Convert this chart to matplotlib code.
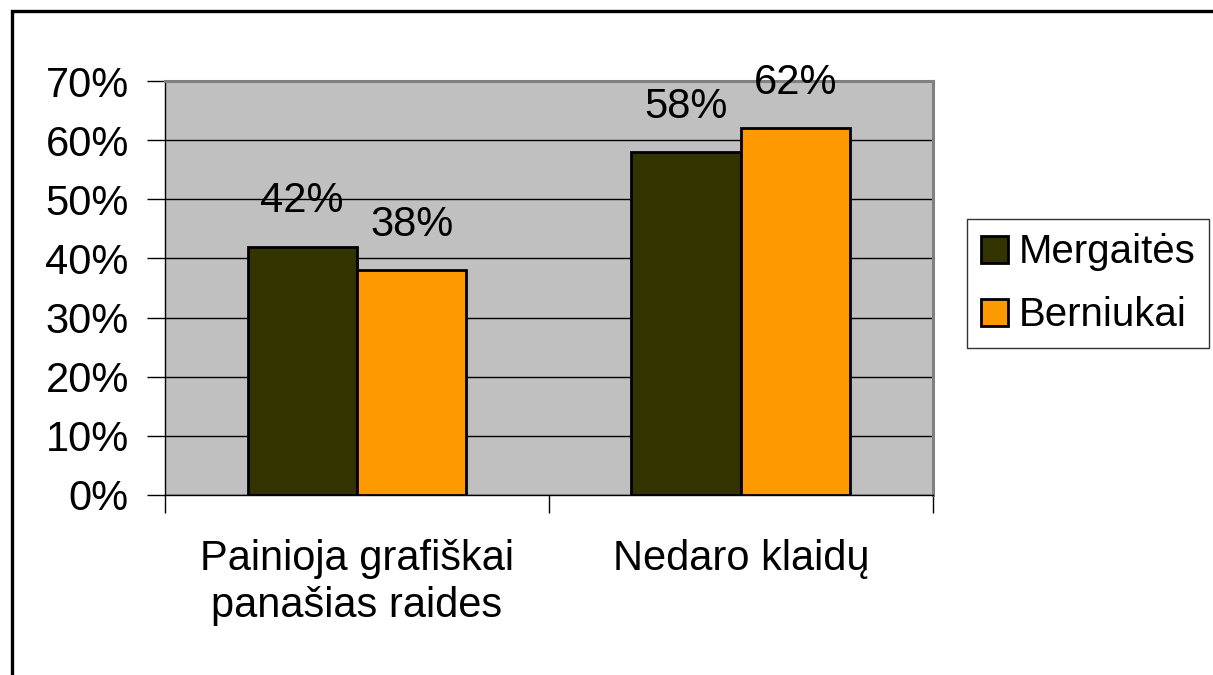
import numpy as np
import matplotlib.pyplot as plt
from matplotlib.lines import Line2D

plt.rcParams['font.family'] = ['Liberation Sans', 'DejaVu Sans']

categories = ['Painioja grafiškai\npanašias raides', 'Nedaro klaidų']
series_names = ['Mergaitės', 'Berniukai']
mergaites = [42, 58]
berniukai = [38, 62]
colors = ['#333300', '#FF9900']
yticks = [0, 10, 20, 30, 40, 50, 60, 70]

fig = plt.figure(figsize=(12.13, 6.75), dpi=100)
ax = fig.add_axes([0.136, 0.2667, 0.633, 0.6133])
ax.set_facecolor('#C0C0C0')

x = np.arange(len(categories))
w = 0.285
for vals, name, col, off in [(mergaites, series_names[0], colors[0], -w / 2),
                             (berniukai, series_names[1], colors[1], w / 2)]:
    bars = ax.bar(x + off, vals, w, color=col, edgecolor='black', linewidth=2,
                  label=name, zorder=3)
    for b, v in zip(bars, vals):
        ax.text(b.get_x() + b.get_width() / 2, v + 4.3, f'{v}%',
                ha='center', va='bottom', fontsize=30)

ax.set_xlim(-0.5, 1.5)
ax.set_ylim(0, 70)
ax.set_yticks(yticks)
ax.set_yticklabels([f'{t}%' for t in yticks], fontsize=30)
ax.yaxis.grid(True, color='black', linewidth=1, zorder=0)
ax.set_axisbelow(True)

# category ticks sit on the boundaries between groups
ax.set_xticks([-0.5, 0.5, 1.5])
ax.set_xticklabels([])
ax.set_xticks(x, minor=True)
ax.set_xticklabels(categories, minor=True, fontsize=30, linespacing=1.2)
ax.tick_params(axis='x', which='minor', length=0, pad=32)
ax.tick_params(axis='x', which='major', length=13, width=1, direction='out')
ax.tick_params(axis='y', length=13, width=1, pad=13)

for s in ['top', 'right']:
    ax.spines[s].set_color('#808080')
    ax.spines[s].set_linewidth(2.2)
for s in ['left', 'bottom']:
    ax.spines[s].set_color('black')
    ax.spines[s].set_linewidth(1)

leg = ax.legend(loc='center left', bbox_to_anchor=(1.045, 0.51), fontsize=29,
                frameon=True, fancybox=False, edgecolor='black',
                handlelength=0.65, handleheight=0.65, handletextpad=0.27,
                borderpad=0.35, labelspacing=0.62, borderaxespad=0)
leg.get_frame().set_linewidth(1)

# outer frame: top and left edges only
fig.add_artist(Line2D([0.0095, 0.0095, 1.0], [0.0, 0.9835, 0.9835],
                      color='black', lw=2.4, solid_joinstyle='miter',
                      transform=fig.transFigure))

fig.savefig('out.png', dpi=100)
